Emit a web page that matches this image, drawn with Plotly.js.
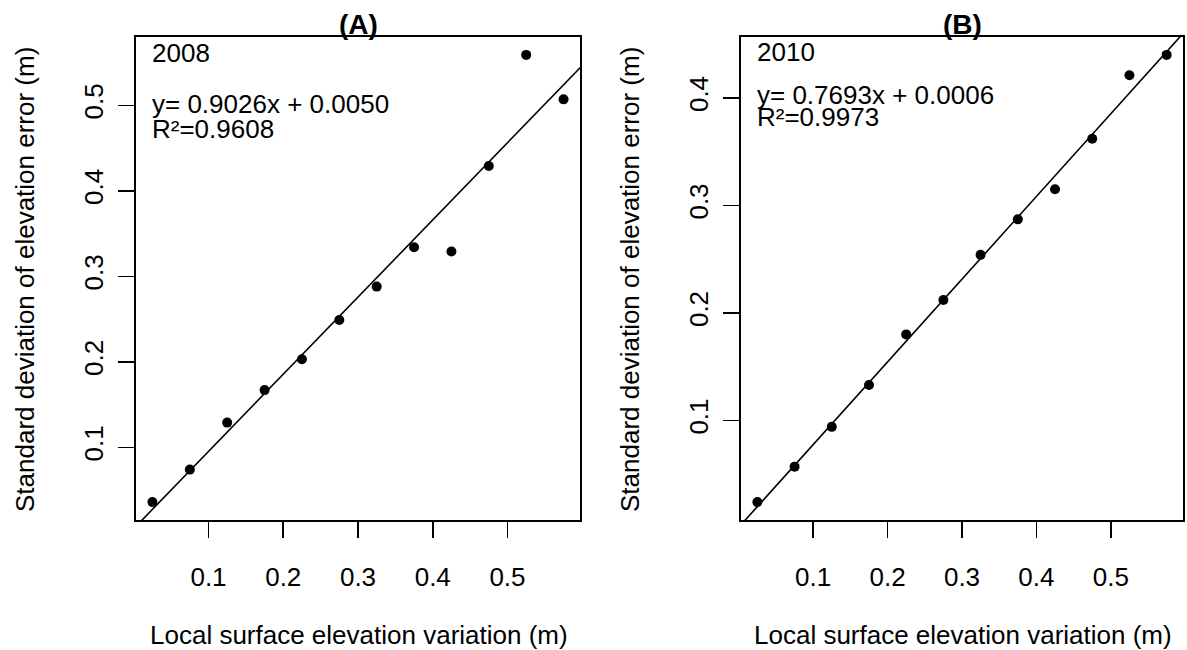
<!DOCTYPE html>
<html>
<head>
<meta charset="utf-8">
<script src="https://cdn.plot.ly/plotly-3.0.1.min.js"></script>
<style>html,body{margin:0;padding:0;background:#fff}#chart{width:1187px;height:650px}</style>
</head>
<body>
<div id="chart"></div>
<script>
// ---- data ----
const xVals = [0.025, 0.075, 0.125, 0.175, 0.225, 0.275, 0.325, 0.375, 0.425, 0.475, 0.525, 0.575];
const y2008 = [0.036, 0.074, 0.129, 0.167, 0.203, 0.249, 0.288, 0.334, 0.329, 0.429, 0.559, 0.507];
const y2010 = [0.024, 0.057, 0.094, 0.133, 0.180, 0.212, 0.254, 0.287, 0.315, 0.362, 0.421, 0.440];
const fit2008 = [0.9026, 0.0050]; // slope, intercept
const fit2010 = [0.7693, 0.0006];
const panelTitles = ["(A)", "(B)"];
const yearLabels = ["2008", "2010"];
const eqLabels = ["y= 0.9026x + 0.0050", "y= 0.7693x + 0.0006"];
const r2Labels = ["R²=0.9608", "R²=0.9973"];
const xTitle = "Local surface elevation variation (m)";
const yTitle = "Standard deviation of elevation error (m)";

// ---- helpers ----
const W = 1187, H = 650;
const px = v => v / W;
const py = v => 1 - v / H;
function extRange(a) {
  const lo = Math.min(...a), hi = Math.max(...a), d = (hi - lo) * 0.04;
  return [lo - d, hi + d];
}
const FONT = "Liberation Sans, Arial, Helvetica, sans-serif";
const FS = 26;

const xr = extRange(xVals);
const yrA = extRange(y2008);
const yrB = extRange(y2010);

function fitLine(fit, xa, ya) {
  return {
    x: [xr[0] - 0.1, xr[1] + 0.1],
    y: [fit[0] * (xr[0] - 0.1) + fit[1], fit[0] * (xr[1] + 0.1) + fit[1]],
    xaxis: xa, yaxis: ya, mode: "lines", type: "scatter",
    line: {color: "black", width: 1.6}, hoverinfo: "skip", showlegend: false
  };
}
function pts(y, xa, ya) {
  return {
    x: xVals, y: y, xaxis: xa, yaxis: ya, mode: "markers", type: "scatter",
    marker: {color: "black", size: 10}, showlegend: false
  };
}

const data = [
  fitLine(fit2008, "x", "y"), pts(y2008, "x", "y"),
  fitLine(fit2010, "x2", "y2"), pts(y2010, "x2", "y2")
];

function xAxis(domain, anchor) {
  return {
    domain: domain, anchor: anchor, range: xr,
    tickmode: "linear", tick0: 0, dtick: 0.1,
    showline: true, mirror: true, linecolor: "black", linewidth: 1.6,
    ticks: "outside", ticklen: 16, tickwidth: 1.6, tickcolor: "black",
    showgrid: false, zeroline: false,
    tickfont: {family: FONT, size: FS, color: "black"},
    ticklabelstandoff: 17, fixedrange: true
  };
}
function yAxis(domain, anchor, range) {
  return {
    domain: domain, anchor: anchor, range: range,
    tickmode: "linear", tick0: 0, dtick: 0.1,
    showline: true, mirror: true, linecolor: "black", linewidth: 1.6,
    ticks: "outside", ticklen: 16, tickwidth: 1.6, tickcolor: "black",
    showgrid: false, zeroline: false, tickangle: -90,
    tickfont: {family: FONT, size: FS, color: "black"},
    ticklabelstandoff: 5, fixedrange: true
  };
}

const yDom = [py(520), py(37)];
const boxes = [[136, 580], [741, 1183]];

const annotations = [];
function txt(text, x, y, opts) {
  annotations.push(Object.assign({
    text: text, x: px(x), y: py(y), xref: "paper", yref: "paper",
    showarrow: false, xanchor: "left", yanchor: "middle",
    font: {family: FONT, size: FS, color: "black"}
  }, opts || {}));
}
// panel texts
const textY = [[53, 104, 129], [52, 95, 117]];
const textX = [150, 755];
for (let i = 0; i < 2; i++) {
  const cx = (boxes[i][0] + boxes[i][1]) / 2;
  txt("<b>" + panelTitles[i] + "</b>", cx, 24, {xanchor: "center", font: {family: FONT, size: 28, color: "black"}});
  txt(yearLabels[i], textX[i], textY[i][0]);
  txt(eqLabels[i], textX[i], textY[i][1]);
  txt(r2Labels[i], textX[i], textY[i][2]);
  txt(xTitle, cx + 0.5, 635, {xanchor: "center"});
}
txt(yTitle, 25, 280, {xanchor: "center", textangle: -90});
txt(yTitle, 630, 280, {xanchor: "center", textangle: -90});

const layout = {
  width: W, height: H,
  margin: {l: 0, r: 0, t: 0, b: 0},
  paper_bgcolor: "white", plot_bgcolor: "white",
  showlegend: false,
  xaxis: xAxis([px(boxes[0][0]), px(boxes[0][1])], "y"),
  yaxis: yAxis(yDom, "x", yrA),
  xaxis2: xAxis([px(boxes[1][0]), px(boxes[1][1])], "y2"),
  yaxis2: yAxis(yDom, "x2", yrB),
  annotations: annotations
};

Plotly.newPlot("chart", data, layout, {displayModeBar: false, staticPlot: true});
</script>
</body>
</html>
